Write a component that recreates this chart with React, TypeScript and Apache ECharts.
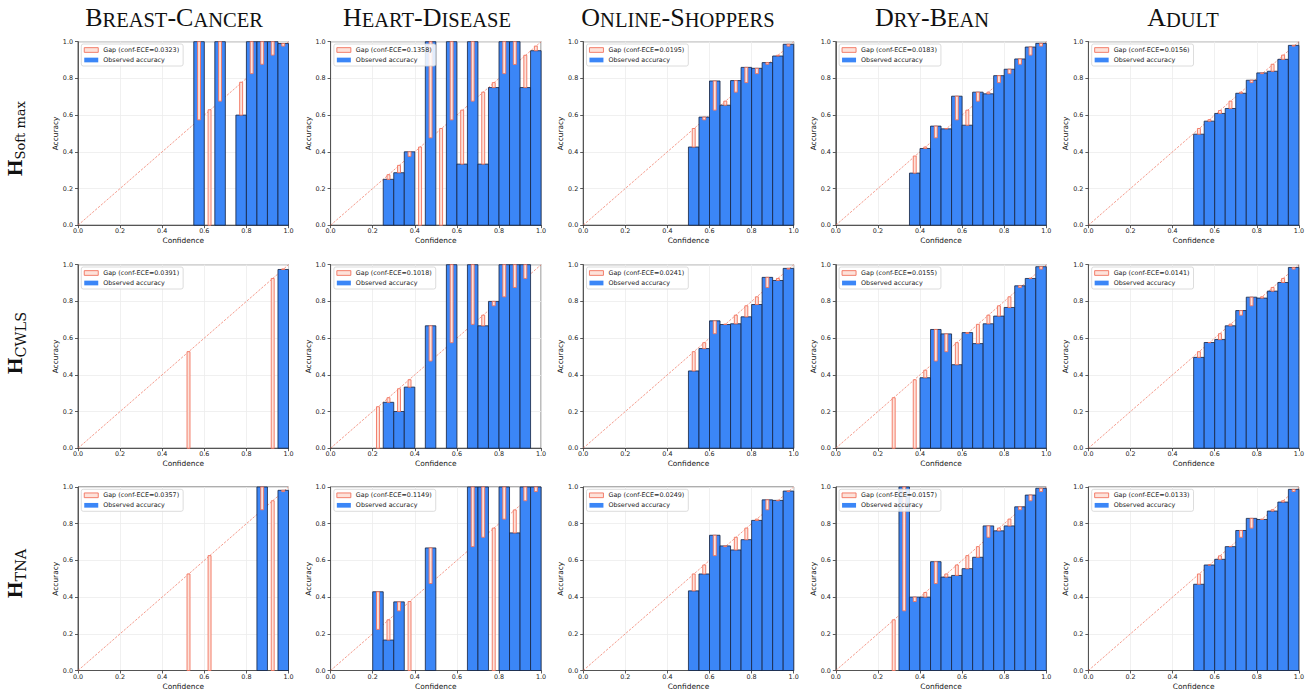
import React, { useEffect, useRef } from 'react';
import * as echarts from 'echarts';

const N = null;

// lower edges of the 20 confidence bins
const binLefts = [0, 0.05, 0.1, 0.15, 0.2, 0.25, 0.3, 0.35, 0.4, 0.45, 0.5, 0.55, 0.6, 0.65, 0.7, 0.75, 0.8, 0.85, 0.9, 0.95];
const datasetNames = ['Breast-Cancer', 'Heart-Disease', 'Online-Shoppers', 'Dry-Bean', 'Adult'];
const methodNames = ['Softmax', 'CWLS', 'TNA'];
const diagonal = [[0, 0], [1, 1]];

const eceSoftmax = [0.0323, 0.1358, 0.0195, 0.0183, 0.0156];
const eceCwls = [0.0391, 0.1018, 0.0241, 0.0155, 0.0141];
const eceTna = [0.0357, 0.1149, 0.0249, 0.0157, 0.0133];

// ---- Softmax row ----
const bcSoftmaxAcc = [N, N, N, N, N, N, N, N, N, N, N, 1.0, 0, 1.0, N, 0.6, 1.0, 1.0, 1.0, 0.99];
const bcSoftmaxConf = [N, N, N, N, N, N, N, N, N, N, N, 0.574, 0.629, 0.676, N, 0.779, 0.826, 0.877, 0.927, 0.976];
const hdSoftmaxAcc = [N, N, N, N, N, 0.25, 0.286, 0.4, 0, 1.0, 0, 1.0, 0.333, 1.0, 0.333, 0.75, 1.0, 1.0, 0.75, 0.951];
const hdSoftmaxConf = [N, N, N, N, N, 0.275, 0.326, 0.375, 0.426, 0.476, 0.527, 0.574, 0.627, 0.676, 0.725, 0.777, 0.826, 0.876, 0.926, 0.976];
const osSoftmaxAcc = [N, N, N, N, N, N, N, N, N, N, 0.426, 0.589, 0.786, 0.654, 0.788, 0.86, 0.855, 0.886, 0.922, 0.986];
const osSoftmaxConf = [N, N, N, N, N, N, N, N, N, N, 0.527, 0.574, 0.627, 0.676, 0.725, 0.777, 0.826, 0.877, 0.926, 0.976];
const dbSoftmaxAcc = [N, N, N, N, N, N, N, 0.284, 0.418, 0.54, 0.525, 0.703, 0.545, 0.725, 0.716, 0.815, 0.85, 0.906, 0.971, 0.991];
const dbSoftmaxConf = [N, N, N, N, N, N, N, 0.377, 0.426, 0.476, 0.527, 0.574, 0.627, 0.676, 0.725, 0.777, 0.826, 0.877, 0.927, 0.976];
const adSoftmaxAcc = [N, N, N, N, N, N, N, N, N, N, 0.496, 0.567, 0.609, 0.636, 0.719, 0.79, 0.83, 0.839, 0.904, 0.98];
const adSoftmaxConf = [N, N, N, N, N, N, N, N, N, N, 0.527, 0.575, 0.625, 0.676, 0.725, 0.777, 0.826, 0.877, 0.927, 0.976];

// ---- CWLS row ----
const bcCwlsAcc = [N, N, N, N, N, N, N, N, N, N, 0, N, N, N, N, N, N, N, 0, 0.974];
const bcCwlsConf = [N, N, N, N, N, N, N, N, N, N, 0.526, N, N, N, N, N, N, N, 0.925, 0.977];
const hdCwlsAcc = [N, N, N, N, 0, 0.25, 0.2, 0.333, N, 0.667, N, 1.0, N, 1.0, 0.667, 0.8, 1.0, 1.0, 1.0, N];
const hdCwlsConf = [N, N, N, N, 0.226, 0.275, 0.324, 0.373, N, 0.475, N, 0.575, N, 0.675, 0.725, 0.776, 0.825, 0.876, 0.925, N];
const osCwlsAcc = [N, N, N, N, N, N, N, N, N, N, 0.421, 0.543, 0.694, 0.674, 0.678, 0.716, 0.783, 0.931, 0.914, 0.98];
const osCwlsConf = [N, N, N, N, N, N, N, N, N, N, 0.526, 0.575, 0.624, 0.676, 0.725, 0.776, 0.825, 0.876, 0.925, 0.976];
const dbCwlsAcc = [N, N, N, N, N, 0, N, 0, 0.384, 0.647, 0.623, 0.455, 0.63, 0.57, 0.678, 0.72, 0.767, 0.885, 0.925, 0.989];
const dbCwlsConf = [N, N, N, N, N, 0.275, N, 0.373, 0.425, 0.475, 0.526, 0.575, 0.625, 0.675, 0.725, 0.776, 0.825, 0.876, 0.926, 0.976];
const adCwlsAcc = [N, N, N, N, N, N, N, N, N, N, 0.495, 0.576, 0.592, 0.667, 0.75, 0.823, 0.818, 0.856, 0.903, 0.985];
const adCwlsConf = [N, N, N, N, N, N, N, N, N, N, 0.526, 0.575, 0.624, 0.676, 0.725, 0.776, 0.825, 0.876, 0.925, 0.976];

// ---- TNA row ----
const bcTnaAcc = [N, N, N, N, N, N, N, N, N, N, 0, N, 0, N, N, N, N, 1.0, 0, 0.982];
const bcTnaConf = [N, N, N, N, N, N, N, N, N, N, 0.526, N, 0.626, N, N, N, N, 0.876, 0.925, 0.975];
const hdTnaAcc = [N, N, N, N, 0.429, 0.166, 0.374, 0, N, 0.668, N, N, N, 1.0, 1.0, 0, 1.0, 0.75, 1.0, 1.0];
const hdTnaConf = [N, N, N, N, 0.224, 0.276, 0.325, 0.376, N, 0.474, N, N, N, 0.675, 0.726, 0.776, 0.825, 0.875, 0.925, 0.975];
const osTnaAcc = [N, N, N, N, N, N, N, N, N, N, 0.434, 0.526, 0.737, 0.679, 0.657, 0.713, 0.818, 0.93, 0.927, 0.978];
const osTnaConf = [N, N, N, N, N, N, N, N, N, N, 0.526, 0.575, 0.626, 0.675, 0.726, 0.776, 0.825, 0.876, 0.925, 0.975];
const dbTnaAcc = [N, N, N, N, N, 0, 1.0, 0.4, 0.4, 0.593, 0.509, 0.518, 0.555, 0.617, 0.788, 0.761, 0.788, 0.892, 0.956, 0.993];
const dbTnaConf = [N, N, N, N, N, 0.276, 0.325, 0.376, 0.425, 0.474, 0.526, 0.575, 0.626, 0.675, 0.726, 0.776, 0.825, 0.876, 0.925, 0.975];
const adTnaAcc = [N, N, N, N, N, N, N, N, N, N, 0.47, 0.575, 0.606, 0.675, 0.763, 0.829, 0.823, 0.869, 0.918, 0.987];
const adTnaConf = [N, N, N, N, N, N, N, N, N, N, 0.526, 0.575, 0.625, 0.676, 0.726, 0.776, 0.825, 0.876, 0.925, 0.975];

const accRows = [
  [bcSoftmaxAcc, hdSoftmaxAcc, osSoftmaxAcc, dbSoftmaxAcc, adSoftmaxAcc],
  [bcCwlsAcc, hdCwlsAcc, osCwlsAcc, dbCwlsAcc, adCwlsAcc],
  [bcTnaAcc, hdTnaAcc, osTnaAcc, dbTnaAcc, adTnaAcc],
];
const confRows = [
  [bcSoftmaxConf, hdSoftmaxConf, osSoftmaxConf, dbSoftmaxConf, adSoftmaxConf],
  [bcCwlsConf, hdCwlsConf, osCwlsConf, dbCwlsConf, adCwlsConf],
  [bcTnaConf, hdTnaConf, osTnaConf, dbTnaConf, adTnaConf],
];
const eceRows = [eceSoftmax, eceCwls, eceTna];

// ---- layout / style ----
const GRID_LEFTS = [78, 330.6, 583.2, 835.8, 1088.4];
const GRID_TOPS = [41.7, 264.7, 487];
const GRID_W = 210.5;
const GRID_H = 183.5;
const TITLE_X = [174, 427, 678, 932, 1183];
const ROW_LABEL_Y = [176, 374, 598];
const SUB_FONT = [13, 14.5, 14.5];
const BIN_W = 0.05;
const GAP_W = 0.014;
const FONT = 'DejaVu Sans';
const BLUE = '#3b86f7';
const BLUE_EDGE = 'rgba(22,36,66,0.9)';
const GAP_FILL = '#fde2da';
const GAP_EDGE = '#f2735e';
const AXIS_COLOR = '#333';

function smallCaps(s: string) {
  const parts: { cls: string; t: string }[] = [];
  for (const ch of s) {
    const lower = ch >= 'a' && ch <= 'z';
    const cls = lower ? 's' : 'b';
    const t = lower ? ch.toUpperCase() : ch;
    if (parts.length && parts[parts.length - 1].cls === cls) parts[parts.length - 1].t += t;
    else parts.push({ cls, t });
  }
  return parts.map((p) => `{${p.cls}|${p.t}}`).join('');
}

function buildOption() {
  const grid: any[] = [];
  const xAxis: any[] = [];
  const yAxis: any[] = [];
  const series: any[] = [];
  const legend: any[] = [];
  const graphic: any[] = [];

  for (let r = 0; r < 3; r++) {
    for (let c = 0; c < 5; c++) {
      const k = r * 5 + c;
      const left = GRID_LEFTS[c];
      const top = GRID_TOPS[r];
      grid.push({ left, top, width: GRID_W, height: GRID_H, show: true, borderColor: AXIS_COLOR, borderWidth: 0.8, backgroundColor: 'transparent' });
      xAxis.push({
        type: 'value', gridIndex: k, min: 0, max: 1, interval: 0.2,
        name: 'Confidence', nameLocation: 'middle', nameGap: 12,
        nameTextStyle: { fontSize: 7.4, fontFamily: FONT, color: '#111' },
        axisLine: { show: true, onZero: false, lineStyle: { color: AXIS_COLOR, width: 0.8 } },
        axisTick: { show: true, length: 3, lineStyle: { color: AXIS_COLOR, width: 0.8 } },
        axisLabel: { fontSize: 6.4, fontFamily: FONT, color: '#222', margin: 3, formatter: (v: number) => v.toFixed(1) },
        splitLine: { show: true, lineStyle: { color: '#ececec', width: 0.8 } },
      });
      yAxis.push({
        type: 'value', gridIndex: k, min: 0, max: 1, interval: 0.2,
        name: 'Accuracy', nameLocation: 'middle', nameGap: 16,
        nameTextStyle: { fontSize: 7.4, fontFamily: FONT, color: '#111' },
        axisLine: { show: true, onZero: false, lineStyle: { color: AXIS_COLOR, width: 0.8 } },
        axisTick: { show: true, length: 3, lineStyle: { color: AXIS_COLOR, width: 0.8 } },
        axisLabel: { fontSize: 6.4, fontFamily: FONT, color: '#222', margin: 5, formatter: (v: number) => v.toFixed(1) },
        splitLine: { show: true, lineStyle: { color: '#ececec', width: 0.8 } },
      });

      const acc = accRows[r][c];
      const conf = confRows[r][c];
      const data: number[][] = [];
      binLefts.forEach((b, i) => {
        if (acc[i] !== null && conf[i] !== null) data.push([b, acc[i] as number, conf[i] as number]);
      });
      const gapName = `Gap (conf-ECE=${eceRows[r][c].toFixed(4)})`;

      series.push({
        type: 'line', xAxisIndex: k, yAxisIndex: k, data: diagonal, symbol: 'none', silent: true, z: 1,
        lineStyle: { color: 'rgba(240,115,95,0.9)', width: 0.8, type: [2.4, 1.4] },
      });
      series.push({
        type: 'custom', name: 'Observed accuracy', xAxisIndex: k, yAxisIndex: k, data, z: 2, silent: true,
        itemStyle: { color: BLUE },
        renderItem: (_p: any, api: any) => {
          const x0 = api.value(0);
          const a = api.value(1);
          if (!(a > 0)) return { type: 'group', children: [] };
          const p0 = api.coord([x0, a]);
          const p1 = api.coord([x0 + BIN_W, 0]);
          return {
            type: 'rect',
            shape: { x: p0[0], y: p0[1], width: p1[0] - p0[0], height: p1[1] - p0[1] },
            style: { fill: BLUE, stroke: BLUE_EDGE, lineWidth: 0.9 },
          };
        },
      });
      series.push({
        type: 'custom', name: gapName, xAxisIndex: k, yAxisIndex: k, data, z: 3, silent: true,
        itemStyle: { color: GAP_FILL, borderColor: GAP_EDGE },
        renderItem: (_p: any, api: any) => {
          const x0 = api.value(0);
          const a = api.value(1);
          const cf = api.value(2);
          const cx = x0 + BIN_W / 2;
          const p0 = api.coord([cx - GAP_W / 2, Math.max(a, cf)]);
          const p1 = api.coord([cx + GAP_W / 2, Math.min(a, cf)]);
          return {
            type: 'rect',
            shape: { x: p0[0], y: p0[1], width: p1[0] - p0[0], height: p1[1] - p0[1] },
            style: { fill: GAP_FILL, stroke: GAP_EDGE, lineWidth: 0.9 },
          };
        },
      });

      legend.push({
        orient: 'vertical', left: left + 3.3, top: top + 2.3,
        selectedMode: false,
        data: [
          { name: gapName, icon: 'rect', itemStyle: { color: GAP_FILL, borderColor: GAP_EDGE, borderWidth: 0.9 } },
          { name: 'Observed accuracy', icon: 'rect', itemStyle: { color: BLUE, borderColor: BLUE, borderWidth: 0 } },
        ],
        itemWidth: 14, itemHeight: 4.7, itemGap: 2,
        padding: [2, 4, 2, 2.5],
        textStyle: { fontSize: 6.4, fontFamily: FONT, color: '#222', lineHeight: 8 },
        borderColor: '#d3d3d3', borderWidth: 0.8, borderRadius: 2,
        backgroundColor: 'rgba(255,255,255,0.85)',
      });
    }
  }

  datasetNames.forEach((name, c) => {
    graphic.push({
      type: 'text', x: TITLE_X[c], y: 30.2, silent: true,
      style: {
        text: smallCaps(name),
        textAlign: 'center', textVerticalAlign: 'bottom', align: 'center', verticalAlign: 'bottom',
        fill: '#111',
        rich: {
          b: { fontSize: 26, fontFamily: 'Liberation Serif', fill: '#111', color: '#111', verticalAlign: 'bottom', lineHeight: 26 },
          s: { fontSize: 20.5, fontFamily: 'Liberation Serif', fill: '#111', color: '#111', verticalAlign: 'bottom', lineHeight: 22.3 },
        },
      },
    });
  });

  methodNames.forEach((m, r) => {
    const sub = m === 'Softmax' ? 'Soft max' : m;
    graphic.push({
      type: 'group', x: 14.9, y: ROW_LABEL_Y[r], rotation: Math.PI / 2, silent: true,
      children: [
        {
          type: 'text', x: 0, y: 0,
          style: { text: 'H', fontSize: 21, fontWeight: 'bold', fontFamily: 'Liberation Serif', fill: '#111', textAlign: 'left', align: 'left', textVerticalAlign: 'middle', verticalAlign: 'middle' },
        },
        {
          type: 'text', x: 16.5, y: 5.6,
          style: { text: sub, fontSize: SUB_FONT[r], fontFamily: 'DejaVu Serif', fill: '#111', textAlign: 'left', align: 'left', textVerticalAlign: 'middle', verticalAlign: 'middle' },
        },
      ],
    });
  });

  return { animation: false, backgroundColor: '#fff', grid, xAxis, yAxis, series, legend, graphic };
}

export default function App() {
  const ref = useRef<HTMLDivElement>(null);
  useEffect(() => {
    const chart = echarts.init(ref.current as HTMLDivElement, null, { renderer: 'svg' });
    chart.setOption(buildOption() as any);
    return () => chart.dispose();
  }, []);
  return <div ref={ref} style={{ position: 'fixed', left: 0, top: 0, width: 1314, height: 694, background: '#fff' }} />;
}
